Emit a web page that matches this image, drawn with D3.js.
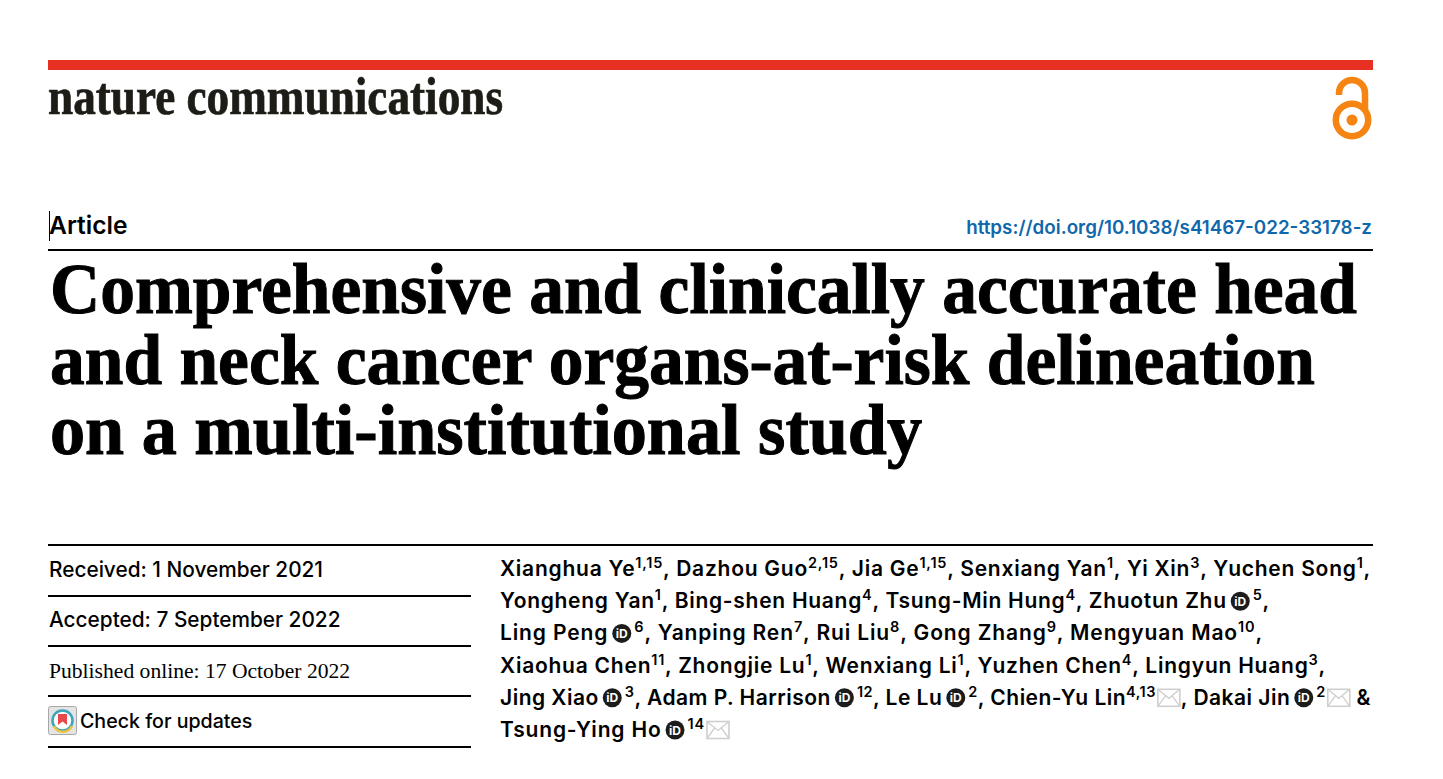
<!DOCTYPE html>
<html>
<head>
<meta charset="UTF-8">
<title>Article header</title>
<script src="https://d3js.org/d3.v7.min.js"></script>
<style>
  html, body { margin: 0; padding: 0; background: #fff; overflow: hidden; }
  svg { display: block; }
</style>
</head>
<body>
<div id="page"></div>
<script>
// page texts
var journalName = "nature communications";
var articleType = "Article";
var doiText = "https://doi.org/10.1038/s41467-022-33178-z";
var titleLines = [
  "Comprehensive and clinically accurate head",
  "and neck cancer organs-at-risk delineation",
  "on a multi-institutional study"
];
var titleEnds = [1357, 1315, 922];
var dateLabels = ["Received: 1 November 2021", "Accepted: 7 September 2022", "Published online: 17 October 2022", "Check for updates"];

// author runs: plain text, [sup], "@" = orcid badge, "#" = mail icon
var authorLines = [
  ["Xianghua Ye", ["1,15"], ", Dazhou Guo", ["2,15"], ", Jia Ge", ["1,15"], ", Senxiang Yan", ["1"], ", Yi Xin", ["3"], ", Yuchen Song", ["1"], ","],
  ["Yongheng Yan", ["1"], ", Bing-shen Huang", ["4"], ", Tsung-Min Hung", ["4"], ", Zhuotun Zhu", "@", ["5"], ","],
  ["Ling Peng", "@", ["6"], ", Yanping Ren", ["7"], ", Rui Liu", ["8"], ", Gong Zhang", ["9"], ", Mengyuan Mao", ["10"], ","],
  ["Xiaohua Chen", ["11"], ", Zhongjie Lu", ["1"], ", Wenxiang Li", ["1"], ", Yuzhen Chen", ["4"], ", Lingyun Huang", ["3"], ","],
  ["Jing Xiao", "@", ["3"], ", Adam P. Harrison", "@", ["12"], ", Le Lu", "@", ["2"], ", Chien-Yu Lin", ["4,13"], "#", ", Dakai Jin", "@", ["2"], "#", " &"],
  ["Tsung-Ying Ho", "@", ["14"], "#"]
];
var authorEnds = [1371, 1270, 1263, 1326, 1371, 730];

var width = 1443, height = 779;
var svg = d3.select("#page").append("svg").attr("width", width).attr("height", height);

var sans = "Inter, 'Noto Sans', sans-serif";
var serif = "'Liberation Serif', serif";

// y position of the baselines, one band per text line
var authorY = d3.scalePoint().domain(d3.range(authorLines.length)).range([576, 737]);
var titleY = d3.scalePoint().domain(d3.range(titleLines.length)).range([313, 454]);

function rule(y, x1, x2, h) {
  svg.append("rect").attr("x", x1).attr("y", y).attr("width", x2 - x1).attr("height", h).attr("fill", "#000");
}

// red bar + masthead
svg.append("rect").attr("x", 48).attr("y", 60).attr("width", 1325).attr("height", 10).attr("fill", "#e83022");
svg.append("text").text(journalName)
  .attr("x", 48).attr("y", 114)
  .attr("font-family", serif).attr("font-weight", 700).attr("font-size", 52)
  .attr("textLength", 455).attr("lengthAdjust", "spacingAndGlyphs")
  .attr("stroke", "#1d1c17").attr("stroke-width", 0.7)
  .attr("fill", "#1d1c17");

// open access lock
var lock = svg.append("g").attr("transform", "translate(1352,120)");
lock.append("circle").attr("r", 16.2).attr("fill", "none").attr("stroke", "#f58413").attr("stroke-width", 6.5);
lock.append("circle").attr("r", 5.5).attr("fill", "#f58413");
lock.append("path").attr("d", "M-13,-25 V-27 A13,13 0 0 1 13,-27 V-10")
  .attr("fill", "none").attr("stroke", "#f58413").attr("stroke-width", 6.5);

// article line
svg.append("rect").attr("x", 49).attr("y", 211).attr("width", 1).attr("height", 30).attr("fill", "#000");
svg.append("text").text(articleType).attr("x", 49).attr("y", 234)
  .attr("font-family", sans).attr("font-weight", 600).attr("font-size", 24.6).attr("fill", "#000");
svg.append("text").text(doiText).attr("x", 1372).attr("y", 234).attr("text-anchor", "end")
  .attr("font-family", sans).attr("font-weight", 600).attr("font-size", 18.8).attr("fill", "#0f68ab");
rule(249, 48, 1373, 2);

// title
svg.selectAll("text.title").data(titleLines).enter().append("text").attr("class", "title")
  .text(function(d) { return d; })
  .attr("x", 50)
  .attr("y", function(d, i) { return titleY(i); })
  .attr("font-family", serif).attr("font-weight", 700).attr("font-size", 71)
  .attr("textLength", function(d, i) { return titleEnds[i] - 50; })
  .attr("lengthAdjust", "spacingAndGlyphs")
  .attr("stroke", "#000").attr("stroke-width", 1)
  .attr("fill", "#000");

// left column
rule(544, 48, 1373, 2);
[595, 645, 695, 746].forEach(function(y) { rule(y, 48, 471, 2); });
svg.append("text").text(dateLabels[0]).attr("x", 49).attr("y", 577)
  .attr("font-family", sans).attr("font-weight", 500).attr("font-size", 20.8).attr("fill", "#000");
svg.append("text").text(dateLabels[1]).attr("x", 49).attr("y", 627)
  .attr("font-family", sans).attr("font-weight", 500).attr("font-size", 20.8).attr("fill", "#000");
svg.append("text").text(dateLabels[2]).attr("x", 49).attr("y", 678)
  .attr("font-family", serif).attr("font-size", 21.6).attr("fill", "#000");
svg.append("text").text(dateLabels[3]).attr("x", 80).attr("y", 728)
  .attr("font-family", sans).attr("font-weight", 500).attr("font-size", 19.6).attr("fill", "#000");

// check for updates badge
var badge = svg.append("g").attr("transform", "translate(48,706)");
badge.append("rect").attr("x", 0.5).attr("y", 0.5).attr("width", 28).attr("height", 28).attr("rx", 2)
  .attr("fill", "#e4e4e4").attr("stroke", "#a8a8a8");
badge.append("circle").attr("cx", 14.5).attr("cy", 14.5).attr("r", 10).attr("fill", "#fff")
  .attr("stroke", "#3aa6b9").attr("stroke-width", 2.5);
badge.append("path").attr("d", "M6,20 A10,10 0 0 0 24,20").attr("fill", "none").attr("stroke", "#f0c23c").attr("stroke-width", 2.5);
badge.append("path").attr("d", "M10,8 H19 V19 L14.5,15.5 L10,19 Z").attr("fill", "#e8474c");

// orcid badge, centre at x, y
function orcid(g, x, y) {
  g.append("circle").attr("cx", x + 9.5).attr("cy", y - 7).attr("r", 9.5).attr("fill", "#1c1c1c");
  g.append("text").text("iD").attr("x", x + 9.5).attr("y", y - 2.5).attr("text-anchor", "middle")
    .attr("font-family", sans).attr("font-weight", 700).attr("font-size", 12).attr("fill", "#fff");
}
function mail(g, x, y) {
  y = y - 1.5;
  g.append("rect").attr("x", x + 1).attr("y", y - 14).attr("width", 22).attr("height", 17)
    .attr("fill", "#fff").attr("stroke", "#cfcfcf").attr("stroke-width", 1.6);
  g.append("path").attr("d", "M" + (x + 1) + "," + (y - 14) + " L" + (x + 12) + "," + (y - 5) + " L" + (x + 23) + "," + (y - 14)
    + " M" + (x + 1) + "," + (y + 3) + " L" + (x + 9) + "," + (y - 8) + " M" + (x + 23) + "," + (y + 3) + " L" + (x + 15) + "," + (y - 8))
    .attr("fill", "none").attr("stroke", "#cfcfcf").attr("stroke-width", 1.3);
}

// authors: walk each line once to measure, then again with a spacing that lands on the line end
function drawLine(g, runs, y, spacing) {
  var x = 500;
  runs.forEach(function(r, i) {
    if (r === "@") {
      orcid(g, x + 4, y); x += 26;
    } else if (r === "#") {
      mail(g, x + 1, y); x += 25;
    } else {
      var sup = Array.isArray(r);
      var t = g.append("text").text(sup ? r[0] : r)
        .attr("x", x).attr("y", sup ? y - 8 : y)
        .attr("xml:space", "preserve")
        .style("white-space", "pre")
        .style("letter-spacing", spacing + "px")
        .attr("font-family", sans).attr("font-weight", 600)
        .attr("font-size", sup ? 14.5 : 21).attr("fill", "#000");
      x += t.node().getComputedTextLength();
    }
  });
  return x;
}
authorLines.forEach(function(runs, i) {
  var probe = svg.append("g");
  var end = drawLine(probe, runs, authorY(i), 0);
  probe.remove();
  var count = d3.sum(runs, function(r) { return (r === "@" || r === "#") ? 0 : (Array.isArray(r) ? r[0] : r).length; });
  drawLine(svg.append("g"), runs, authorY(i), (authorEnds[i] - end) / count);
});
</script>
</body>
</html>
